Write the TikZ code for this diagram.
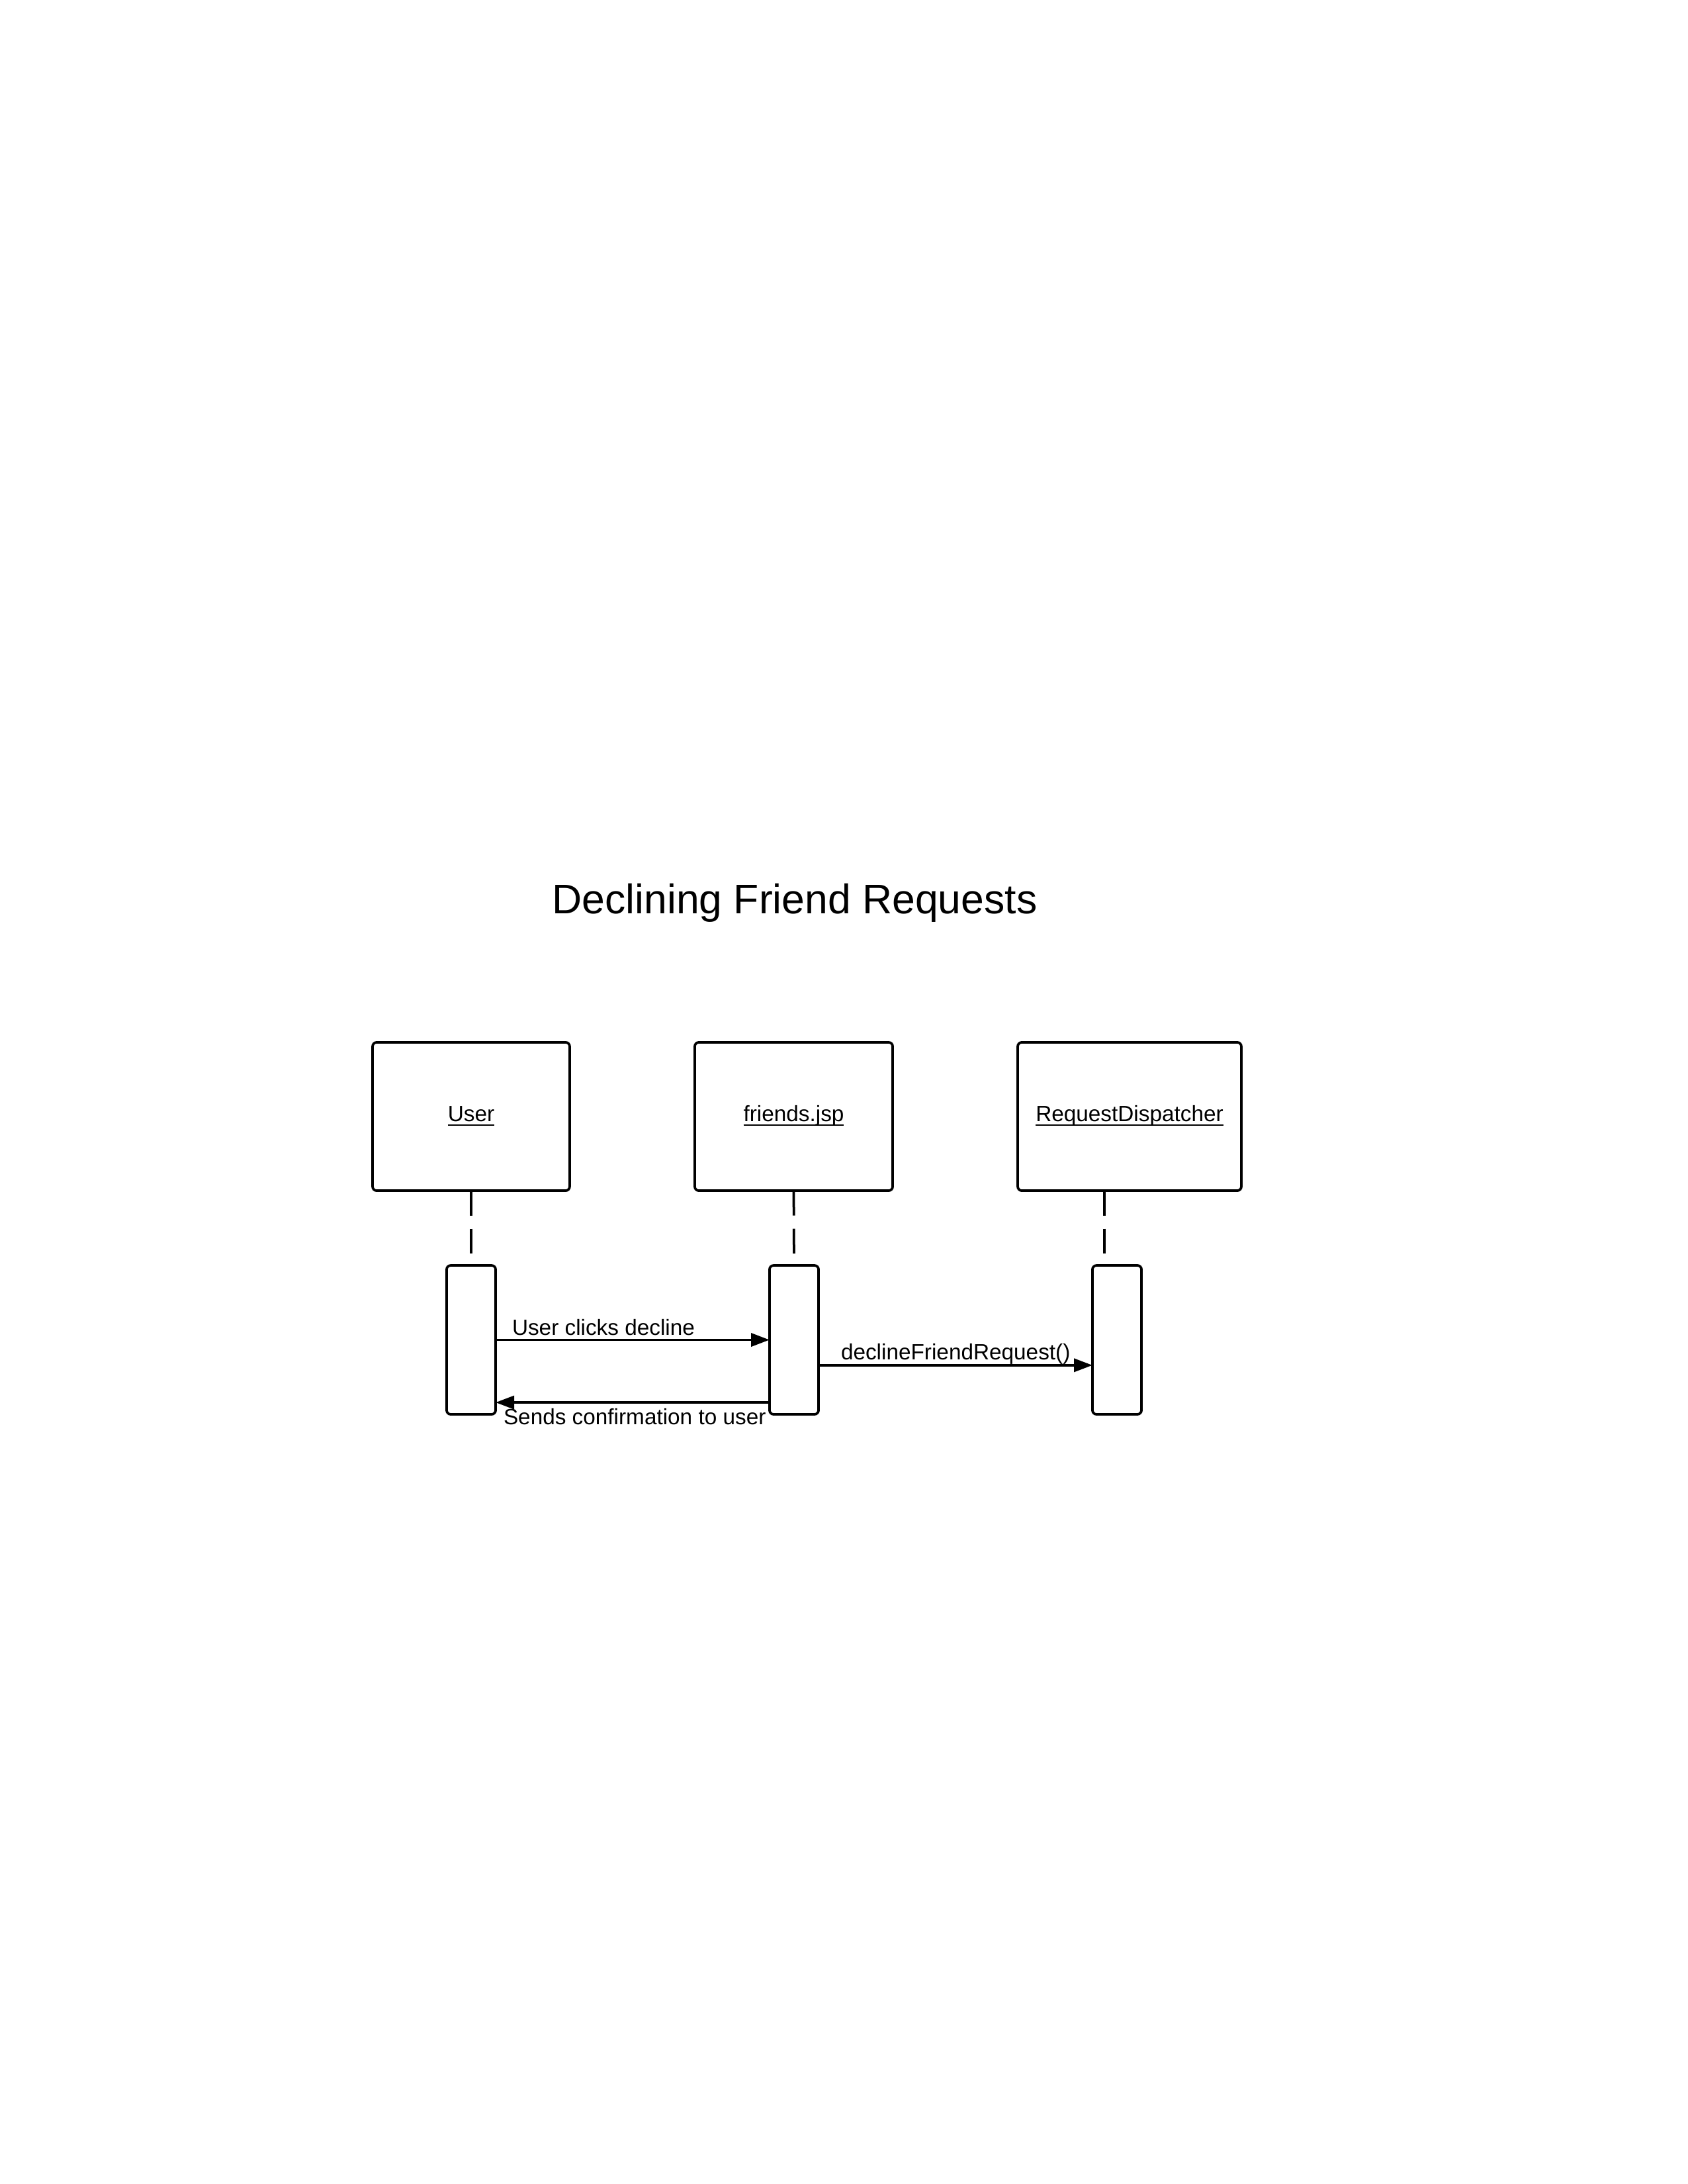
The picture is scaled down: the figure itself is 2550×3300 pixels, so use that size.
\documentclass[tikz,border=0pt]{standalone}
\usepackage{fontspec}
\setmainfont{Liberation Sans}
\usetikzlibrary{arrows.meta}
\newcommand{\ulin}[1]{\underline{\smash{#1}}}
\begin{document}
\begin{tikzpicture}[x=0.24pt,y=-0.24pt,
  every node/.style={inner sep=0pt, outer sep=0pt},
  headbox/.style={draw, line width=0.9pt, rounded corners=1.5pt, minimum height=53.8pt, text height=5.9pt, text depth=2.5pt, font=\fontsize{8pt}{9.6pt}\selectfont},
  actbox/.style={draw, line width=0.9pt, rounded corners=1.5pt, minimum width=17.8pt, minimum height=54pt},
  lifeline/.style={line width=0.9pt, dash pattern=on 9pt off 4.8pt},
  msg/.style={line width=0.9pt, -{Triangle[length=6.7pt,width=4.8pt]}},
  lbl/.style={font=\fontsize{8pt}{9.6pt}\selectfont, anchor=base west},
  ttl/.style={font=\fontsize{15pt}{18pt}\selectfont, anchor=base}]
\useasboundingbox (0,0) rectangle (2550,3300);
\node[ttl] (title) at (1201,1380) {Declining Friend Requests};
% heads
\node[headbox, minimum width=71.5pt] (uh) at (712,1687) {\ulin{User}};
\node[headbox, minimum width=71.8pt] (fh) at (1199.5,1687) {\ulin{friends.jsp}};
\node[headbox, minimum width=81.1pt] (rh) at (1707,1687) {\ulin{RequestDispatcher}};
% activations
\node[actbox] (ua) at (712,2024.5) {};
\node[actbox] (fa) at (1200,2024.5) {};
\node[actbox] (ra) at (1688,2024.5) {};
% lifelines
\draw[lifeline] (uh.south) -- (ua.north);
\draw[lifeline] (fh.south) -- (fa.north);
\draw[lifeline] ([xshift=-9.1pt]rh.south) -- ([xshift=-9.1pt]rh.south |- ra.north);
% messages
\draw[msg] (ua.east) -- (fa.west);
\draw[msg] ([yshift=-9.2pt]fa.east) -- ([yshift=-9.2pt]ra.west);
\draw[msg] ([yshift=-22.7pt]fa.west) -- ([yshift=-22.7pt]ua.east);
% labels
\node[lbl] (l1) at (774,2017) {User clicks decline};
\node[lbl] (l3) at (1271,2054) {declineFriendRequest()};
\node[lbl] (l2) at (761,2152) {Sends confirmation to user};
\end{tikzpicture}
\end{document}
